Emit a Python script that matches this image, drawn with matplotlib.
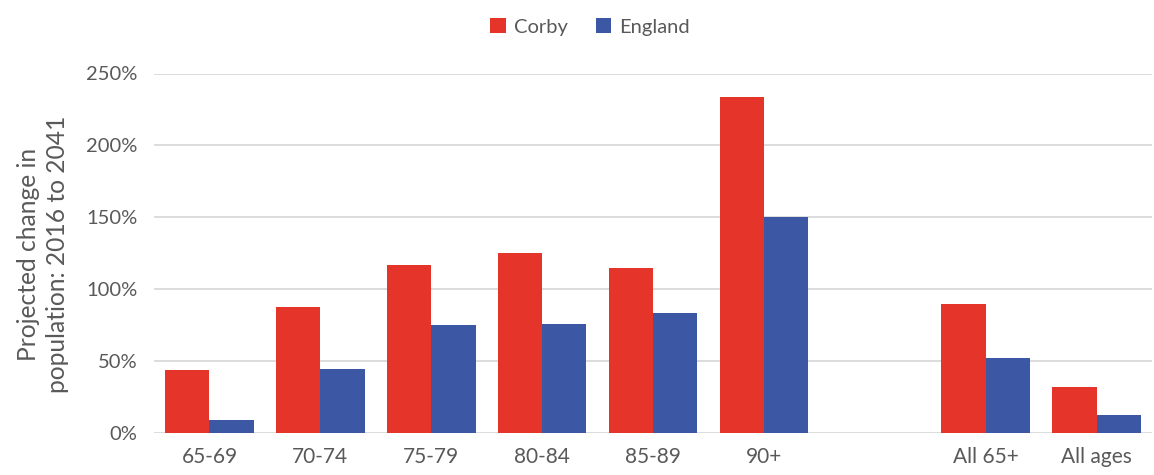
import matplotlib
matplotlib.use("Agg")
import matplotlib.pyplot as plt
import numpy as np
from matplotlib.ticker import FuncFormatter

categories = ["65-69", "70-74", "75-79", "80-84", "85-89", "90+", "", "All 65+", "All ages"]
corby = [44, 87.5, 117, 125, 115, 234, np.nan, 90, 32]
england = [9, 44.5, 75, 75.5, 83.5, 150, np.nan, 52, 12.5]
yticks = [0, 50, 100, 150, 200, 250]

plt.rcParams['font.family'] = ['Lato', 'DejaVu Sans']
txt = '#595959'
red = '#E5352A'
blue = '#3C57A3'

fig = plt.figure(figsize=(11.54, 4.75), dpi=100)
ax = fig.add_axes([154/1154, 1-433/475, 998/1154, (433-73.5)/475])

x = np.arange(len(categories))
w = 0.4
ax.bar(x - w/2, corby, w, color=red, label='Corby', zorder=3)
ax.bar(x + w/2, england, w, color=blue, label='England', zorder=3)

ax.set_xlim(-0.5, len(categories) - 0.5)
ax.set_ylim(0, 250)
ax.set_yticks(yticks)
ax.yaxis.set_major_formatter(FuncFormatter(lambda v, p: f"{int(v)}%"))
ax.set_xticks(x)
ax.set_xticklabels(categories)
ax.grid(axis='y', color='#d9d9d9', linewidth=1.3, zorder=0)
for s in ax.spines.values():
    s.set_visible(False)
ax.tick_params(axis='both', length=0, labelsize=14.5, colors=txt)
ax.tick_params(axis='x', labelsize=15, pad=10)
ax.tick_params(axis='y', pad=12)

ax.set_ylabel("Projected change in\npopulation: 2016 to 2041", fontsize=17.7, color=txt,
              linespacing=1.3, va='center')
ax.yaxis.set_label_coords(-0.111, 0.498)

fig.legend(loc='upper center', bbox_to_anchor=(590/1154, 1.0), ncol=2, frameon=False,
           fontsize=14.5, labelcolor=txt, handlelength=0.75, handleheight=0.75,
           handletextpad=0.4, columnspacing=1.4)

fig.savefig("out.png", dpi=100)
